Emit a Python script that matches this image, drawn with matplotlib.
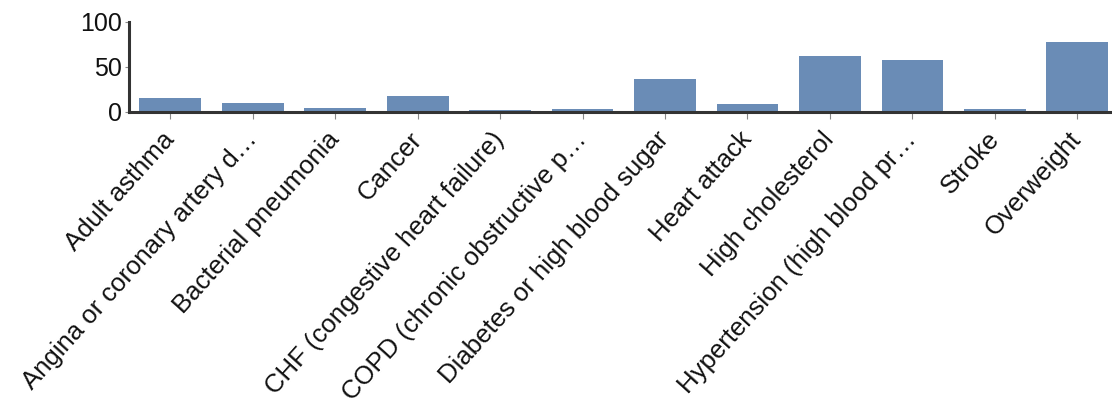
import matplotlib
matplotlib.use("Agg")
import matplotlib.pyplot as plt
import numpy as np

conditions = [
    "Adult asthma",
    "Angina or coronary artery d\u2026",
    "Bacterial pneumonia",
    "Cancer",
    "CHF (congestive heart failure)",
    "COPD (chronic obstructive p\u2026",
    "Diabetes or high blood sugar",
    "Heart attack",
    "High cholesterol",
    "Hypertension (high blood pr\u2026",
    "Stroke",
    "Overweight",
]
percent = [15, 10, 4, 18, 2, 3, 37, 9, 62, 58, 3, 78]

plt.rcParams["font.family"] = ["Liberation Sans", "DejaVu Sans"]

fig = plt.figure(figsize=(11.12, 4.13), dpi=100)
ax = fig.add_axes([0.116, 0.729, 0.884, 0.218])

x = np.arange(len(conditions))
ax.bar(x, percent, width=0.75, color="#6a8cb6", zorder=2)

ax.set_xlim(-0.5, 11.42)
ax.set_ylim(0, 100)
ax.set_yticks([0, 50, 100])
ax.set_xticks(x)
ax.set_xticklabels(conditions, rotation=48, ha="right", va="center",
                   rotation_mode="anchor", fontsize=18.5, color="#111111")
ax.tick_params(axis="y", labelsize=18, labelcolor="#111111", length=3,
               color="#888888", pad=2)
ax.tick_params(axis="x", length=5, color="#888888", pad=12)

for side in ("top", "right"):
    ax.spines[side].set_visible(False)
for side in ("left", "bottom"):
    ax.spines[side].set_color("#333333")
    ax.spines[side].set_linewidth(2.2)

fig.savefig("out.png", dpi=100)
